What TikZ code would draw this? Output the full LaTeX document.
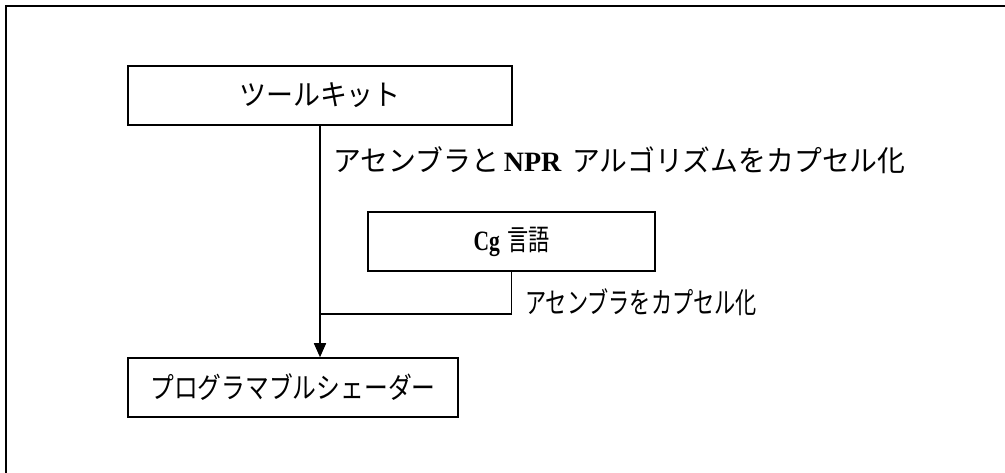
\documentclass[tikz,border=0pt]{standalone}
\usepackage{fontspec}
\usepackage{graphicx}
\setmainfont{Liberation Serif}
\newfontfamily\jpw{Noto Sans CJK JP}
\usetikzlibrary{arrows.meta}
\tikzset{
  box/.style={draw, line width=1.5pt, inner sep=0pt, minimum height=59pt, anchor=center},
  conn/.style={line width=1.5pt},
  lbl/.style={inner sep=0pt, anchor=west},
  frame/.style={line width=2.2pt}
}
\newcommand{\latb}[1]{{\rmfamily\bfseries\fontsize{28pt}{30pt}\selectfont #1}}
\begin{document}
\begin{tikzpicture}[x=1pt,y=-1pt, every node/.style={font=\fontsize{29pt}{32pt}\selectfont}]
\useasboundingbox (0,0) rectangle (1005,473);
\draw[frame] (6,490) -- (6,6) -- (1020,6);
\node[box, minimum width=384pt] (tk) at (320,95.5) {\scalebox{0.93}[1]{\jpw ツールキット}};
\node[box, minimum width=287pt] (cg) at (511.5,241.5) {\scalebox{0.77}[1]{\latb{Cg}}\hspace{7pt}\scalebox{0.73}[1]{\jpw 言語}};
\node[box, minimum width=330pt] (ps) at (293,387.5) {\scalebox{0.82}[1]{\jpw プログラマブルシェーダー}};
\node[lbl] (l1) at (333,160) {\scalebox{0.96}[1]{\jpw アセンブラと}\hspace{5pt}\latb{NPR}\hspace{11pt}\scalebox{0.96}[1]{\jpw アルゴリズムをカプセル化}};
\node[lbl] (l2) at (525,302) {\scalebox{0.73}[1]{\jpw アセンブラをカプセル化}};
\coordinate (j) at (tk.south |- 0,314);
\draw[conn, -{Triangle[length=14pt,width=12pt]}] (tk.south) -- (tk.south |- ps.north);
\draw[conn] (cg.south) |- (j);
\end{tikzpicture}
\end{document}
